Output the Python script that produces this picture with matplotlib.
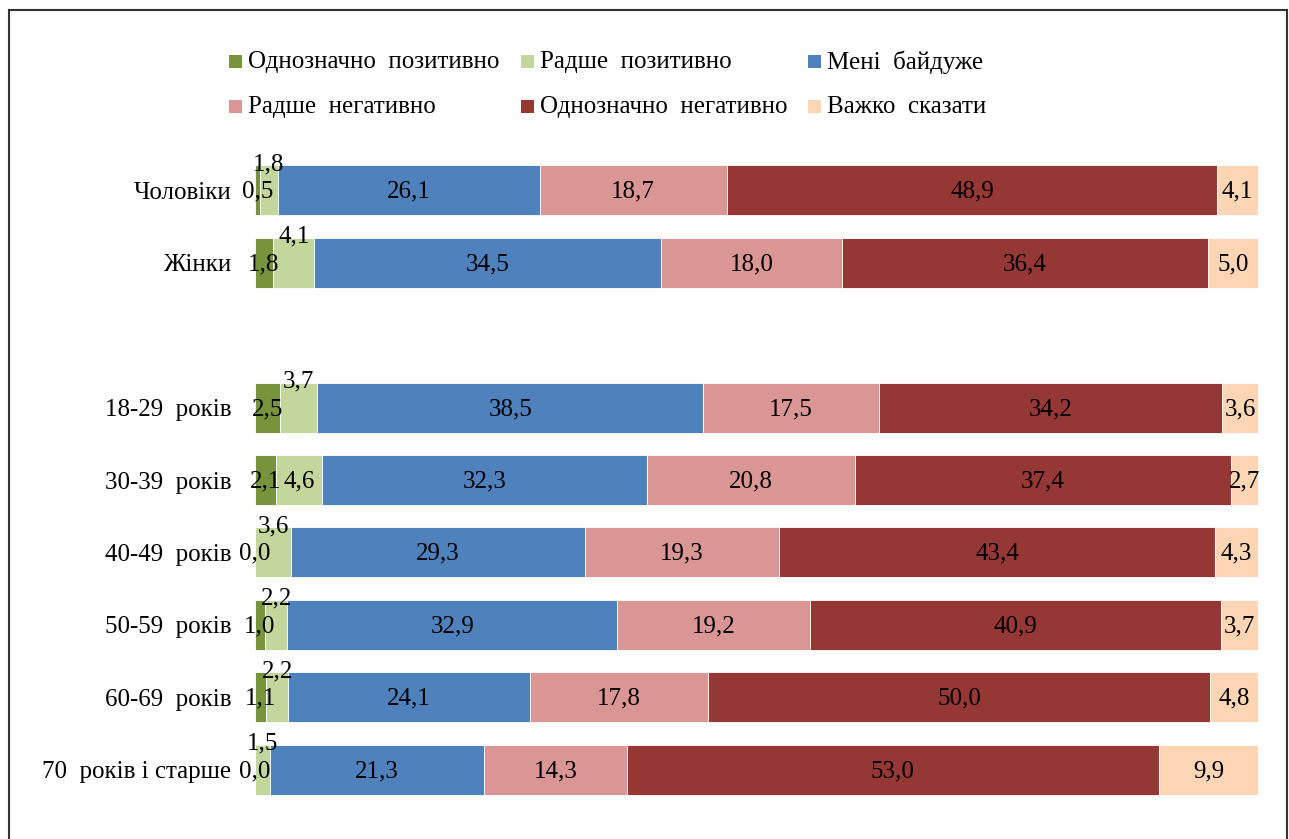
import numpy as np
import matplotlib.pyplot as plt
from matplotlib.patches import Rectangle

plt.rcParams['font.family'] = ['Liberation Serif', 'DejaVu Serif']

# ─── Data ────────────────────────────────────────────────────────────
categories = ['Чоловіки', 'Жінки', '', '18-29  років', '30-39  років',
              '40-49  років', '50-59  років', '60-69  років',
              '70  років і старше']
series = ['Однозначно  позитивно', 'Радше  позитивно', 'Мені  байдуже',
          'Радше  негативно', 'Однозначно  негативно', 'Важко  сказати']

definitely_pos = [0.5, 1.8, np.nan, 2.5, 2.1, 0.0, 1.0, 1.1, 0.0]
rather_pos = [1.8, 4.1, np.nan, 3.7, 4.6, 3.6, 2.2, 2.2, 1.5]
indifferent = [26.1, 34.5, np.nan, 38.5, 32.3, 29.3, 32.9, 24.1, 21.3]
rather_neg = [18.7, 18.0, np.nan, 17.5, 20.8, 19.3, 19.2, 17.8, 14.3]
definitely_neg = [48.9, 36.4, np.nan, 34.2, 37.4, 43.4, 40.9, 50.0, 53.0]
hard_to_say = [4.1, 5.0, np.nan, 3.6, 2.7, 4.3, 3.7, 4.8, 9.9]

colors = ['#77933C', '#C3D69B', '#4F81BD', '#D99694', '#953735', '#FCD5B5']

FS = 18

# ─── Figure ──────────────────────────────────────────────────────────
fig = plt.figure(figsize=(12.89, 8.39), dpi=100)
W, H = 1289, 839
ax = fig.add_axes([255 / W, 1 - 806 / H, (1258 - 255) / W, (806 - 154) / H])

values = np.array([definitely_pos, rather_pos, indifferent,
                   rather_neg, definitely_neg, hard_to_say])
totals = np.nansum(values, axis=0)
totals[totals == 0] = 1
shares = values / totals * 100

y = np.arange(len(categories))
left = np.zeros(len(categories))
for i, name in enumerate(series):
    w = np.nan_to_num(shares[i])
    ax.barh(y, w, left=left, height=0.69, color=colors[i],
            edgecolor='white', linewidth=0.6)
    for j in range(len(categories)):
        if np.isnan(values[i, j]):
            continue
        cx = left[j] + w[j] / 2
        cy = y[j]
        # small "rather positive" labels were moved above the bar
        if i == 1 and values[i, j] < 4.5:
            cy -= 0.38
        ax.text(cx, cy + 0.02, f'{values[i, j]:.1f}'.replace('.', ','),
                ha='center', va='center', fontsize=FS, color='black')
    left += w

ax.set_xlim(0, 100)
ax.set_ylim(len(categories) - 0.5, -0.5)
ax.set_yticks(y)
ax.set_yticklabels(categories, fontsize=FS)
ax.tick_params(axis='y', length=0, pad=17)
ax.set_xticks([])
for s in ax.spines.values():
    s.set_visible(False)

# ─── Legend (manual, two rows of three) ──────────────────────────────
col_x = [229, 521, 808]
row_y = [61, 106]
for k, name in enumerate(series):
    r, c = divmod(k, 3)
    fig.patches.append(Rectangle((col_x[c] / W, 1 - (row_y[r] + 7) / H),
                                 13 / W, 13 / H, transform=fig.transFigure,
                                 facecolor=colors[k], edgecolor='none'))
    fig.text((col_x[c] + 19) / W, 1 - (row_y[r] + 1) / H, name, fontsize=FS,
             ha='left', va='center')

# ─── Frame ───────────────────────────────────────────────────────────
fig.patches.append(Rectangle((9 / W, -0.1), (1287 - 9) / W, 1.1 - 10 / H,
                             transform=fig.transFigure, fill=False,
                             edgecolor='#333333', linewidth=1.5))

plt.savefig('out.png', dpi=100)
